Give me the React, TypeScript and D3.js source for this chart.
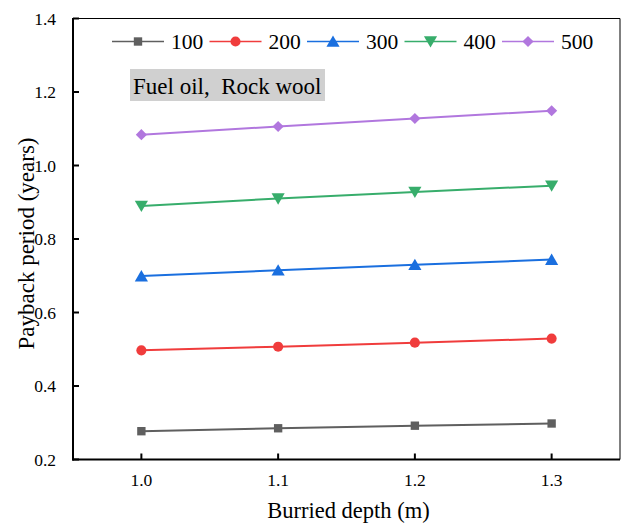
import React from "react";
import * as d3 from "d3";

const depths = [1.0, 1.1, 1.2, 1.3];
const seriesNames = ["100", "200", "300", "400", "500"];
const s100 = [0.277, 0.285, 0.292, 0.298];
const s200 = [0.497, 0.507, 0.518, 0.529];
const s300 = [0.699, 0.715, 0.730, 0.744];
const s400 = [0.890, 0.910, 0.928, 0.945];
const s500 = [1.084, 1.106, 1.128, 1.149];
const seriesValues = [s100, s200, s300, s400, s500];
const colors = ["#5f5f5f", "#f03c3c", "#1a6fdf", "#37ad6b", "#b177de"];
const symbols = [d3.symbolSquare, d3.symbolCircle, d3.symbolTriangle, d3.symbolTriangle, d3.symbolSquare];
const symbolSizes = [70, 80, 75, 75, 62];
const symbolRotate = [0, 0, 0, 180, 45];
const xTicks = [1.0, 1.1, 1.2, 1.3];
const yTicks = [0.2, 0.4, 0.6, 0.8, 1.0, 1.2, 1.4];

const W = 621, H = 525;
const L = 73, R = 620, T = 18.5, B = 459.5;
const FONT = "Liberation Serif, Times New Roman, serif";

export default function App() {
  const x = d3.scaleLinear().domain([0.95, 1.35]).range([L, R]);
  const y = d3.scaleLinear().domain([0.2, 1.4]).range([B, T]);
  const line = d3.line<number>().x((_, i) => x(depths[i])).y((d) => y(d));

  const marker = (k: number, cx: number, cy: number, key: string) => {
    const p = d3.symbol().type(symbols[k]).size(symbolSizes[k])();
    const dy = k === 2 ? 1.5 : k === 3 ? -1.5 : 0;
    return (
      <path key={key} d={p || ""} fill={colors[k]}
        transform={`translate(${cx},${cy + dy}) rotate(${symbolRotate[k]})`} />
    );
  };

  const legendX = [112, 209.5, 307, 404.5, 502];
  const ts = { fontFamily: FONT } as React.CSSProperties;

  return (
    <div style={{ position: "absolute", left: 0, top: 0 }}>
      <svg width={W} height={H} style={{ display: "block", background: "#fff", fontFamily: FONT }}>
        {/* frame */}
        <line x1={L} x2={R} y1={T} y2={T} stroke="#000" strokeWidth={1} />
        <line x1={R} x2={R} y1={T} y2={B} stroke="#000" strokeWidth={1} />
        <line x1={L} x2={L} y1={T - 0.5} y2={B + 1} stroke="#000" strokeWidth={2} />
        <line x1={L - 1} x2={R} y1={B} y2={B} stroke="#000" strokeWidth={2} />
        {/* y ticks */}
        {yTicks.map((t) => (
          <g key={"y" + t}>
            <line x1={L} x2={L + 6} y1={y(t)} y2={y(t)} stroke="#000" strokeWidth={2} />
            <text x={L - 17} y={y(t) + 6} textAnchor="end" fontSize={17.5} fill="#000" style={ts}>
              {t.toFixed(1)}
            </text>
          </g>
        ))}
        {/* x ticks */}
        {xTicks.map((t) => (
          <g key={"x" + t}>
            <line x1={x(t)} x2={x(t)} y1={B} y2={B - 6} stroke="#000" strokeWidth={2} />
            <text x={x(t)} y={486} textAnchor="middle" fontSize={17.5} fill="#000" style={ts}>
              {t.toFixed(1)}
            </text>
          </g>
        ))}
        <text x={(L + R) / 2 + 2} y={518} textAnchor="middle" fontSize={22.5} fill="#000" style={ts}>
          Burried depth (m)
        </text>
        <text transform={`translate(34,243.5) rotate(-90)`} textAnchor="middle" fontSize={23} fill="#000" style={ts}>
          Payback period (years)
        </text>
        {/* annotation box */}
        <rect x={130} y={69} width={195} height={32} fill="#d0d0d0" />
        <text x={133} y={94} fontSize={23} fill="#000" style={{ ...ts, whiteSpace: "pre" }}>
          {"Fuel oil,  Rock wool"}
        </text>
        {/* series */}
        {seriesValues.map((vals, k) => (
          <g key={"s" + k}>
            <path d={line(vals) || ""} fill="none" stroke={colors[k]} strokeWidth={2} />
            {vals.map((v, i) => marker(k, x(depths[i]), y(v), `m${k}-${i}`))}
          </g>
        ))}
        {/* legend */}
        {seriesNames.map((n, k) => (
          <g key={"l" + k}>
            <line x1={legendX[k]} x2={legendX[k] + 52} y1={41.5} y2={41.5} stroke={colors[k]} strokeWidth={1.5} />
            {marker(k, legendX[k] + 26, 41.5, "lm" + k)}
            <text x={legendX[k] + 59} y={49} fontSize={21.5} fill="#000" style={ts}>{n}</text>
          </g>
        ))}
      </svg>
    </div>
  );
}
